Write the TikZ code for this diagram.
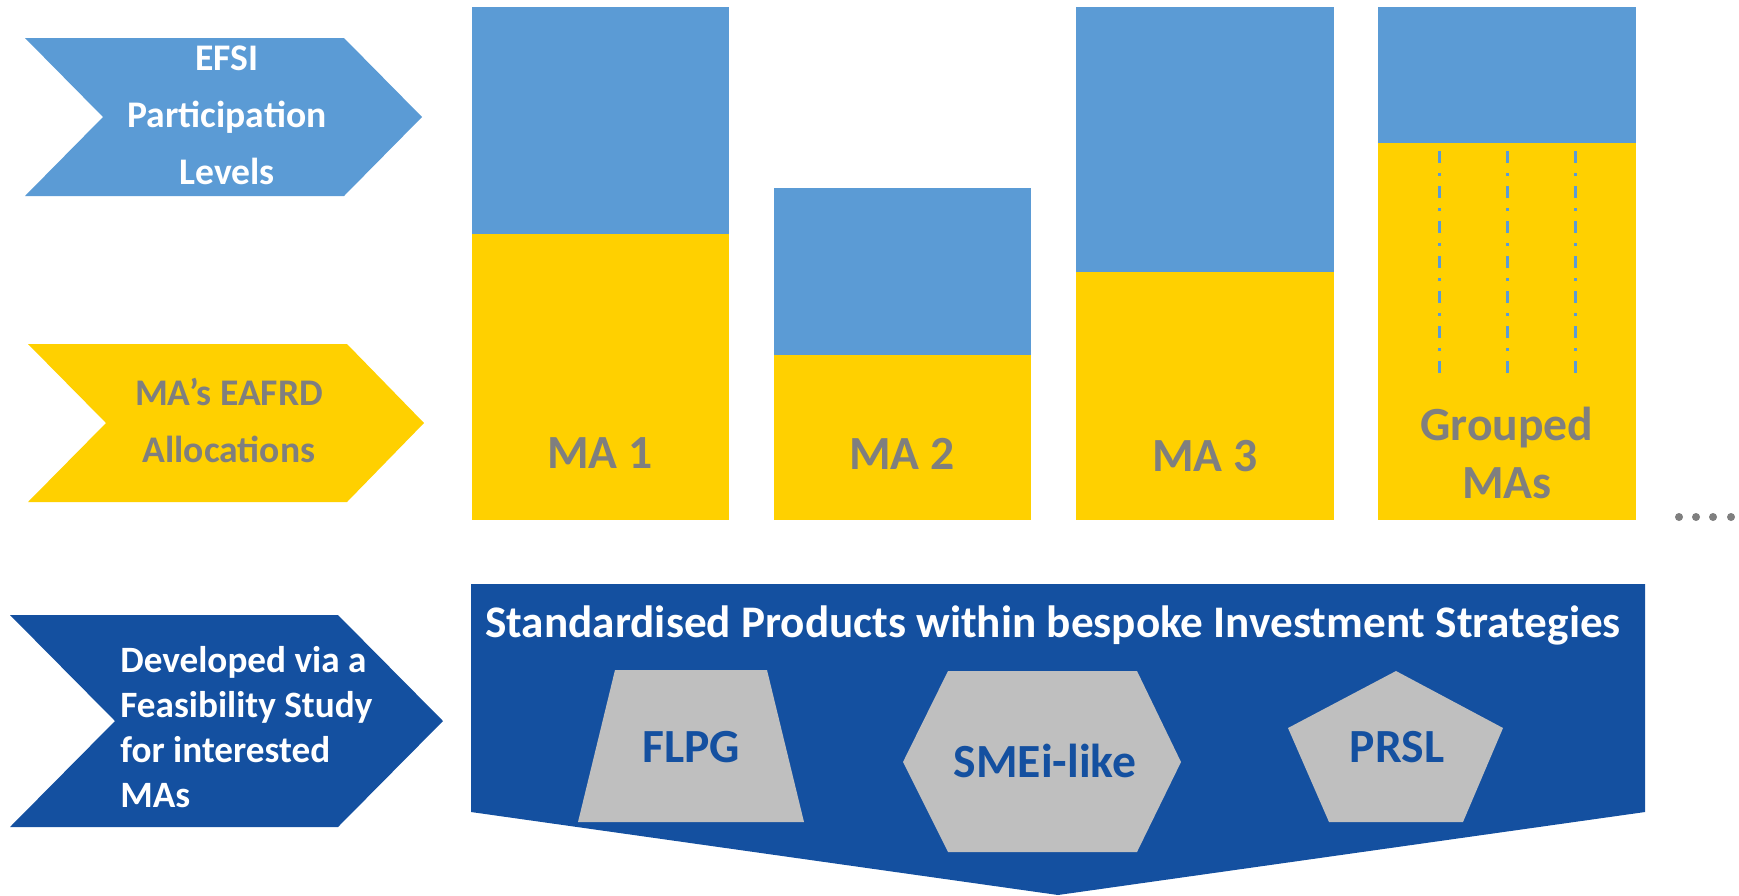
\documentclass[tikz,border=0pt]{standalone}
\usepackage{fontspec}
\setmainfont{Carlito}
\definecolor{efsiblue}{HTML}{5B9BD5}
\definecolor{eafrdgold}{HTML}{FFD000}
\definecolor{navy}{HTML}{1450A0}
\definecolor{shapegray}{HTML}{BFBFBF}
\definecolor{labelgray}{HTML}{7F7F7F}
\begin{document}
\begin{tikzpicture}[x=0.5pt,y=-0.5pt,
  chevtext/.style={font=\fontsize{18.8}{28.5}\selectfont\bfseries, align=center, anchor=base, inner sep=0pt},
  barlabel/.style={font=\fontsize{23.8}{29}\selectfont\bfseries, text=labelgray, align=center, anchor=base, inner sep=0pt},
  prodlabel/.style={font=\fontsize{23.8}{28}\selectfont\bfseries, text=navy, anchor=base, inner sep=0pt},
  groupline/.style={efsiblue, line width=1.5pt, dash pattern=on 6pt off 5pt on 1.5pt off 5pt},
  morepoint/.style={fill=labelgray}]
\useasboundingbox (0,0) rectangle (1739,895);

% row headers
\fill[efsiblue] (25,38) -- (344,38) -- (422,117) -- (344,196) -- (25,196) -- (103,117) -- cycle;
\fill[eafrdgold] (28,344) -- (347,344) -- (424,423) -- (347,502) -- (28,502) -- (106,423) -- cycle;
\fill[navy] (10,615) -- (338,615) -- (443,721) -- (338,827) -- (10,827) -- (115,721) -- cycle;

\node[chevtext, text=white] (efsi) at (227,184) {EFSI\\Participation\\Levels};
\node[chevtext, text=labelgray] (eafrd) at (229,462) {MA’s EAFRD\\Allocations};
\node[chevtext, text=white, align=left, anchor=base west, font=\fontsize{18.6}{22.5}\selectfont\bfseries] (study) at (120,807) {Developed via a\\Feasibility Study\\for interested\\MAs};

% stacked bars: EAFRD allocation below, EFSI participation on top
\fill[eafrdgold] (472,234) rectangle (729,520);
\fill[efsiblue] (472,7) rectangle (729,234);
\fill[eafrdgold] (774,355) rectangle (1031,520);
\fill[efsiblue] (774,188) rectangle (1031,355);
\fill[eafrdgold] (1076,272) rectangle (1334,520);
\fill[efsiblue] (1076,7) rectangle (1334,272);
\fill[eafrdgold] (1378,143) rectangle (1636,520);
\fill[efsiblue] (1378,7) rectangle (1636,143);

\coordinate (g1a) at (1439,151); \coordinate (g1b) at (1439,375);
\coordinate (g2a) at (1507,151); \coordinate (g2b) at (1507,375);
\coordinate (g3a) at (1575,151); \coordinate (g3b) at (1575,375);
\draw[groupline] (g1a) -- (g1b);
\draw[groupline] (g2a) -- (g2b);
\draw[groupline] (g3a) -- (g3b);

\node[barlabel] (ma1) at (600,468) {MA 1};
\node[barlabel] (ma2) at (902,469) {MA 2};
\node[barlabel] (ma3) at (1205,471) {MA 3};
\node[barlabel] (grouped) at (1507,498) {Grouped\\MAs};

\foreach \px in {1679,1696,1713,1731}
  \fill[morepoint] (\px,517) circle[radius=2pt];

% product panel
\fill[navy] (471,584) -- (1645,584) -- (1645,812) -- (1058,895) -- (471,812) -- cycle;
\node[font=\fontsize{22.6}{26}\selectfont\bfseries, text=white, anchor=base, inner sep=0pt] (title) at (1053,637)
  {Standardised Products within bespoke Investment Strategies};

\fill[shapegray] (615,670) -- (767,670) -- (804,822) -- (578,822) -- cycle;
\fill[shapegray] (948,671) -- (1137,671) -- (1181,762) -- (1137,852) -- (948,852) -- (903,762) -- cycle;
\fill[shapegray] (1396,671) -- (1503,728) -- (1463,822) -- (1329,822) -- (1288,728) -- cycle;

\node[prodlabel] (flpg) at (691,762) {FLPG};
\node[prodlabel] (smei) at (1045,777) {SMEi-like};
\node[prodlabel] (prsl) at (1397,762) {PRSL};
\end{tikzpicture}
\end{document}
